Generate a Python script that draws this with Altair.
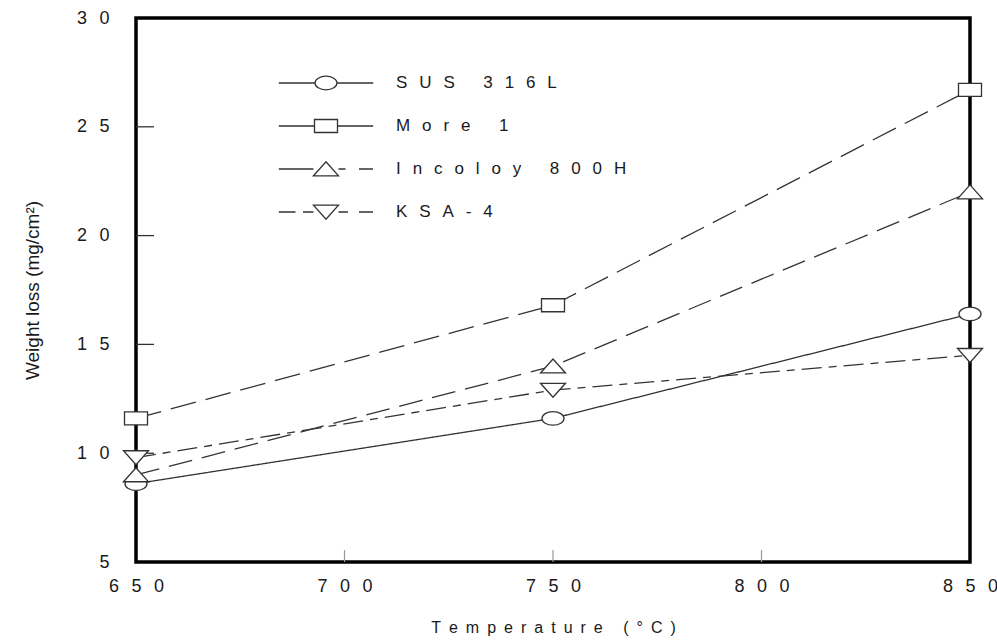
import altair as alt
import pandas as pd

# ---- data ----
series = ["SUS 316L", "More 1", "Incoloy 800H", "KSA-4"]
temperature = [650, 750, 850]
sus316l = [8.6, 11.6, 16.4]
more1 = [11.6, 16.8, 26.7]
incoloy800h = [9.0, 14.0, 22.0]
ksa4 = [9.8, 12.9, 14.5]
x_ticks = [650, 700, 750, 800, 850]
y_ticks = [5, 10, 15, 20, 25, 30]
x_title = "Temperature (°C)"
y_title = "Weight loss (mg/cm²)"

values = {"SUS 316L": sus316l, "More 1": more1,
          "Incoloy 800H": incoloy800h, "KSA-4": ksa4}
rows = []
for s in series:
    for t, v in zip(temperature, values[s]):
        rows.append({"series": s, "temp": t, "loss": v})
df = pd.DataFrame(rows)

FONT = "Liberation Sans"
INK = "#1a1a1a"
SPACER = "\u2002\u2009"
spaced = "join(split(datum.label, ''), '" + SPACER + "')"

# marker shapes (unit coords) for the plot
m_ellipse = "M-1.1,0A1.1,0.68,0,1,0,1.1,0A1.1,0.68,0,1,0,-1.1,0Z"
m_rect = "M-1.15,-0.65L1.15,-0.65L1.15,0.65L-1.15,0.65Z"
m_up = "M-1.25,0.68L0,-0.72L1.25,0.68Z"
m_down = "M-1.25,-0.68L1.25,-0.68L0,0.72Z"
plot_shapes = [m_ellipse, m_rect, m_up, m_down]

# legend symbols: line sample with marker in the middle
leg_shapes = [
    "M-4.72,0L-1.1,0M1.1,0L4.72,0" + m_ellipse,
    "M-4.72,0L-1.15,0M1.15,0L4.72,0" + m_rect,
    "M-4.72,0L-1.25,0M1.25,0L1.95,0M3.3,0L4.7,0" + m_up,
    "M-4.72,0L-3.05,0M-2.3,0L-1.25,0M1.25,0L2.2,0M3.3,0L4.7,0" + m_down,
]

xscale = alt.Scale(domain=[650, 850], nice=False, zero=False)
yscale = alt.Scale(domain=[5, 30], nice=False, zero=False)

x_enc = alt.X("temp:Q", scale=xscale, axis=alt.Axis(
    values=x_ticks, labelExpr=spaced, domain=False, ticks=False, grid=False,
    labelFlush=False, labelOverlap=False,
    labelFont=FONT, labelFontSize=18, labelColor=INK, labelPadding=15,
    title="\u2002".join(x_title),
    titleFont=FONT, titleFontSize=16, titleFontWeight="normal", titleColor=INK,
    titleY=70, titleBaseline="alphabetic"))
y_enc = alt.Y("loss:Q", scale=yscale, axis=alt.Axis(
    values=y_ticks, labelExpr=spaced, domain=False, ticks=False, grid=False,
    labelFlush=False, labelOverlap=False,
    labelFont=FONT, labelFontSize=18, labelColor=INK, labelPadding=27,
    title=y_title, titleFont=FONT, titleFontSize=19,
    titleFontWeight="normal", titleColor=INK, titleX=-104,
    titleBaseline="middle"))

lines = alt.Chart(df).mark_line(color="#333333", strokeWidth=1.3).encode(
    x=x_enc, y=y_enc,
    strokeDash=alt.StrokeDash("series:N", scale=alt.Scale(
        domain=series, range=[[1, 0], [26, 10], [24, 10], [20, 7, 8, 7]]),
        legend=None),
    detail="series:N",
)

points = alt.Chart(df).mark_point(
    filled=True, fill="white", stroke="#333333", strokeWidth=1.3,
    size=400, opacity=1).encode(
    x="temp:Q", y="loss:Q",
    shape=alt.Shape("series:N", scale=alt.Scale(domain=series, range=plot_shapes),
                    legend=None),
)

# legend-only layer: draws no marks (filtered out), only provides the legend
legend_layer = alt.Chart(df).transform_filter("false").mark_point(
    filled=False, color="#333333", strokeWidth=1.3, size=400, opacity=1).encode(
    x="temp:Q", y="loss:Q",
    shape=alt.Shape("series:N", scale=alt.Scale(domain=series, range=leg_shapes),
                    legend=alt.Legend(
                        title=None, orient="none", legendX=179, legendY=54,
                        symbolSize=400, symbolStrokeColor="#333333",
                        symbolStrokeWidth=1.3, symbolOpacity=1,
                        labelExpr=spaced, labelFont=FONT, labelFontSize=17,
                        labelColor=INK, labelOffset=59, labelLimit=500,
                        rowPadding=22, padding=0)),
)

left_tick_df = pd.DataFrame({"v": y_ticks[1:-1]})
bottom_tick_df = pd.DataFrame({"t": x_ticks[1:-1]})
left_ticks = alt.Chart(left_tick_df).mark_rule(color="#333333", strokeWidth=1.3).encode(
    y=alt.Y("v:Q", scale=yscale), x=alt.value(0), x2=alt.value(18))
bottom_ticks = alt.Chart(bottom_tick_df).mark_rule(color="#999999", strokeWidth=1.2).encode(
    x=alt.X("t:Q", scale=xscale), y=alt.value(544), y2=alt.value(532))

chart = alt.layer(left_ticks, bottom_ticks, lines, points, legend_layer).resolve_scale(
    shape="independent"
).properties(
    width=834, height=544,
    autosize=alt.AutoSizeParams(type="none"),
    padding={"left": 136, "top": 18, "right": 27, "bottom": 81},
    background="white",
).configure_view(stroke="black", strokeWidth=3.5)

chart.save("out.html", embed_options={"renderer": "svg", "actions": False})
